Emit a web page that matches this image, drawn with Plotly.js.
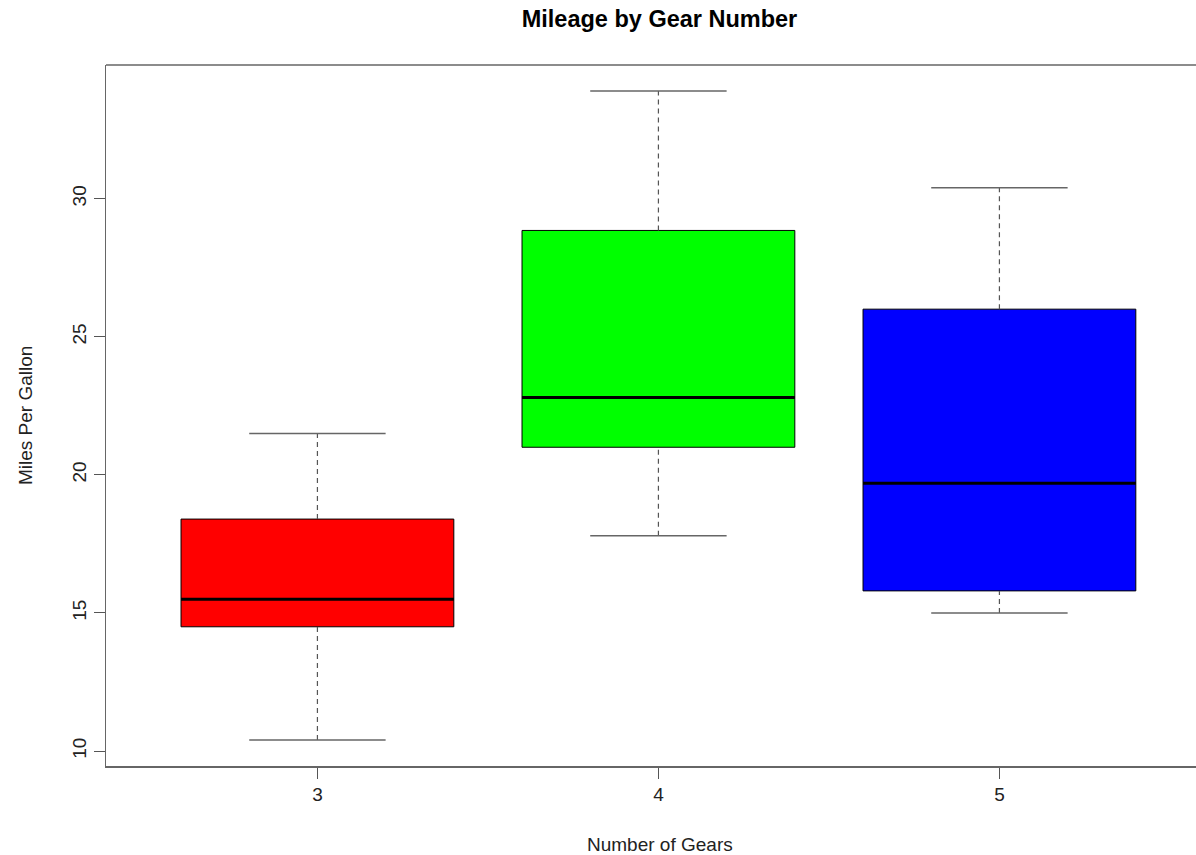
<!DOCTYPE html>
<html>
<head>
<meta charset="utf-8">
<script src="https://cdn.plot.ly/plotly-3.0.1.min.js"></script>
<style>html,body{margin:0;padding:0;background:#fff;}#chart{width:1196px;height:855px;}</style>
</head>
<body>
<div id="chart"></div>
<script>
// Data: mtcars mpg by number of gears
const gears = [3, 4, 5];
const mins = [10.4, 17.8, 15.0];
const q1s = [14.5, 21.0, 15.8];
const medians = [15.5, 22.8, 19.7];
const q3s = [18.4, 28.85, 26.0];
const maxs = [21.5, 33.9, 30.4];
const fills = ['#FF0000', '#00FF00', '#0000FF'];
const yTicks = [10, 15, 20, 25, 30];

const FONT = 'Liberation Sans, Arial, Helvetica, sans-serif';
const BOXW = 0.8;
const CAPW = 0.4;
const traces = [];

gears.forEach((g, i) => {
  // dashed whiskers
  traces.push({
    type: 'scatter', mode: 'lines', hoverinfo: 'skip', showlegend: false,
    x: [g, g, null, g, g],
    y: [q3s[i], maxs[i], null, mins[i], q1s[i]],
    line: {color: '#555555', width: 1.2, dash: '5px,4px'}
  });
  // staples
  traces.push({
    type: 'scatter', mode: 'lines', hoverinfo: 'skip', showlegend: false,
    x: [g - CAPW / 2, g + CAPW / 2, null, g - CAPW / 2, g + CAPW / 2],
    y: [maxs[i], maxs[i], null, mins[i], mins[i]],
    line: {color: '#666666', width: 1.5}
  });
  // box
  traces.push({
    type: 'box', hoverinfo: 'skip', showlegend: false,
    x: [g], q1: [q1s[i]], median: [medians[i]], q3: [q3s[i]],
    lowerfence: [q1s[i]], upperfence: [q3s[i]],
    width: BOXW, whiskerwidth: 0,
    fillcolor: fills[i],
    line: {color: '#000000', width: 1}
  });
  // thick median
  traces.push({
    type: 'scatter', mode: 'lines', hoverinfo: 'skip', showlegend: false,
    x: [g - BOXW / 2, g + BOXW / 2],
    y: [medians[i], medians[i]],
    line: {color: '#000000', width: 3}
  });
});

const layout = {
  width: 1196, height: 855,
  margin: {l: 106, r: 0, t: 65, b: 89},
  paper_bgcolor: '#ffffff', plot_bgcolor: '#ffffff',
  font: {family: FONT, size: 19, color: '#000000'},
  showlegend: false,
  title: {
    text: '<b>Mileage by Gear Number</b>',
    font: {family: FONT, size: 23.5, color: '#000000'},
    x: (659.5 - 106) / 1090, xanchor: 'center', xref: 'paper',
    y: 1 - 19 / 855, yanchor: 'middle', yref: 'container'
  },
  xaxis: {
    range: [2.38, 2.38 + 1090 / 341],
    tickvals: gears, ticktext: gears.map(String),
    showgrid: false, zeroline: false,
    showline: true, linecolor: '#666666', linewidth: 1.5,
    ticks: 'outside', ticklen: 11, tickcolor: '#555555', tickwidth: 1,
    tickfont: {family: FONT, size: 19, color: '#222222'},
    fixedrange: true
  },
  yaxis: {
    range: [9.46, 34.84],
    tickvals: yTicks, ticktext: yTicks.map(String),
    tickangle: -90,
    showgrid: false, zeroline: false,
    showline: true, linecolor: '#666666', linewidth: 1.5,
    ticks: 'outside', ticklen: 11, tickcolor: '#555555', tickwidth: 1,
    tickfont: {family: FONT, size: 19, color: '#222222'},
    fixedrange: true
  },
  shapes: [{
    type: 'line', xref: 'paper', yref: 'paper',
    x0: 0, x1: 1, y0: 1, y1: 1,
    line: {color: '#666666', width: 1.5}
  }],
  annotations: [
    {
      text: 'Number of Gears', xref: 'paper', yref: 'paper',
      x: (660 - 106) / 1090, xanchor: 'center',
      y: -(844 - 766) / 701, yanchor: 'middle',
      showarrow: false, font: {family: FONT, size: 19, color: '#222222'}
    },
    {
      text: 'Miles Per Gallon', xref: 'paper', yref: 'paper',
      x: -(106 - 26) / 1090, xanchor: 'center',
      y: (766 - 416) / 701, yanchor: 'middle', textangle: -90,
      showarrow: false, font: {family: FONT, size: 19, color: '#222222'}
    }
  ]
};

Plotly.newPlot('chart', traces, layout, {displayModeBar: false, staticPlot: true});
</script>
</body>
</html>
